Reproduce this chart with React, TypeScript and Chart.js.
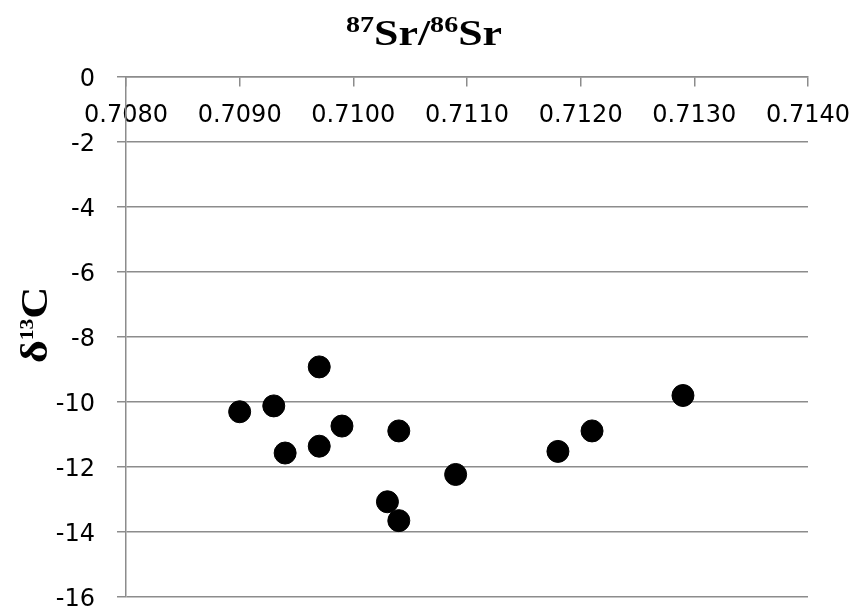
import React, { useEffect, useRef } from 'react';
import { Chart, registerables } from 'chart.js';

Chart.register(...registerables);

// ---- data ----
const sr87_86: number[] = [0.7090, 0.7093, 0.7094, 0.7097, 0.7097, 0.7099, 0.7103, 0.7104, 0.7104, 0.7109, 0.7118, 0.7121, 0.7129];
const d13C: number[] = [-10.30, -10.12, -11.57, -8.92, -11.36, -10.74, -13.07, -13.65, -10.89, -12.23, -11.52, -10.89, -9.80];

const xTickValues: number[] = [0.7080, 0.7090, 0.7100, 0.7110, 0.7120, 0.7130, 0.7140];
const yTickValues: number[] = [0, -2, -4, -6, -8, -10, -12, -14, -16];

type Part = { text: string; sup?: boolean };
const titleParts: Part[] = [
  { text: '87', sup: true },
  { text: 'Sr' },
  { text: '/' },
  { text: '86', sup: true },
  { text: 'Sr' },
];
const yLabelParts: Part[] = [
  { text: 'δ' },
  { text: '13', sup: true },
  { text: 'C' },
];

const GRID = '#8c8c8c';
const TICK_FONT = '"DejaVu Sans", "Open Sans", sans-serif';
const SERIF = '"Liberation Serif", "Times New Roman", serif';

function drawRich(
  ctx: CanvasRenderingContext2D,
  parts: Part[],
  mainFont: string,
  supFont: string,
  supRise: number,
) {
  const widths = parts.map((p) => {
    ctx.font = p.sup ? supFont : mainFont;
    return ctx.measureText(p.text).width;
  });
  const total = widths.reduce((a, b) => a + b, 0);
  let x = -total / 2;
  ctx.textAlign = 'left';
  ctx.textBaseline = 'alphabetic';
  parts.forEach((p, i) => {
    ctx.font = p.sup ? supFont : mainFont;
    ctx.fillText(p.text, x, p.sup ? -supRise : 0);
    x += widths[i];
  });
}

const labelsPlugin = {
  id: 'richLabels',
  afterDraw(chart: any) {
    const ctx: CanvasRenderingContext2D = chart.ctx;
    ctx.save();
    ctx.fillStyle = '#000';
    // title
    ctx.save();
    ctx.translate(424, 45);
    ctx.scale(1.22, 1);
    drawRich(ctx, titleParts, `bold 36px ${SERIF}`, `bold 23px ${SERIF}`, 13);
    ctx.restore();
    // y-axis title
    ctx.save();
    ctx.translate(47, 325);
    ctx.rotate(-Math.PI / 2);
    ctx.scale(1.2, 1);
    drawRich(ctx, yLabelParts, `bold 37px ${SERIF}`, `bold 18px ${SERIF}`, 14);
    ctx.restore();
    ctx.restore();
  },
};

function zeroPadding(scale: any) {
  scale.paddingLeft = 0;
  scale.paddingRight = 0;
  scale.paddingTop = 0;
  scale.paddingBottom = 0;
}

export default function App() {
  const canvasRef = useRef<HTMLCanvasElement | null>(null);

  useEffect(() => {
    const canvas = canvasRef.current;
    if (!canvas) return;
    const chart = new Chart(canvas, {
      type: 'scatter',
      data: {
        datasets: [
          {
            label: 'δ13C vs 87Sr/86Sr',
            data: sr87_86.map((x, i) => ({ x, y: d13C[i] })),
            backgroundColor: '#000',
            borderColor: '#000',
            pointRadius: 11,
            pointHoverRadius: 11,
          },
        ],
      },
      options: {
        animation: false,
        responsive: true,
        maintainAspectRatio: false,
        layout: { padding: { top: 77, right: 45, bottom: 18, left: 0 } },
        plugins: {
          legend: { display: false },
          title: { display: false },
          tooltip: { enabled: false },
        },
        scales: {
          x: {
            type: 'linear',
            position: { y: 0 } as any,
            min: 0.708,
            max: 0.714,
            afterBuildTicks: (scale: any) => {
              scale.ticks = xTickValues.map((v) => ({ value: v }));
            },
            afterFit: (scale: any) => {
              zeroPadding(scale);
            },
            ticks: {
              color: '#000',
              font: { family: TICK_FONT, size: 24 },
              padding: 15,
              maxRotation: 0,
              autoSkip: false,
              callback: (v: any) => Number(v).toFixed(4),
            },
            grid: {
              drawOnChartArea: false,
              drawTicks: true,
              tickLength: 9,
              color: GRID,
              lineWidth: 1.5,
            },
            border: { display: true, color: GRID, width: 1.5 },
          },
          y: {
            type: 'linear',
            position: 'left',
            min: -16,
            max: 0,
            afterBuildTicks: (scale: any) => {
              scale.ticks = yTickValues.map((v) => ({ value: v }));
            },
            afterFit: (scale: any) => {
              scale.width = 126;
              zeroPadding(scale);
            },
            ticks: {
              color: '#000',
              font: { family: TICK_FONT, size: 24 },
              padding: 22,
              labelOffset: 3,
              autoSkip: false,
              callback: (v: any) => String(v),
            },
            grid: {
              color: GRID,
              lineWidth: 1.5,
              drawTicks: true,
              tickLength: 9,
            },
            border: { display: true, color: GRID, width: 1.5 },
          },
        },
      },
      plugins: [labelsPlugin],
    });
    return () => chart.destroy();
  }, []);

  return (
    <div style={{ position: 'absolute', left: 0, top: 0, width: 853, height: 615, background: '#fff' }}>
      <canvas ref={canvasRef} />
    </div>
  );
}
